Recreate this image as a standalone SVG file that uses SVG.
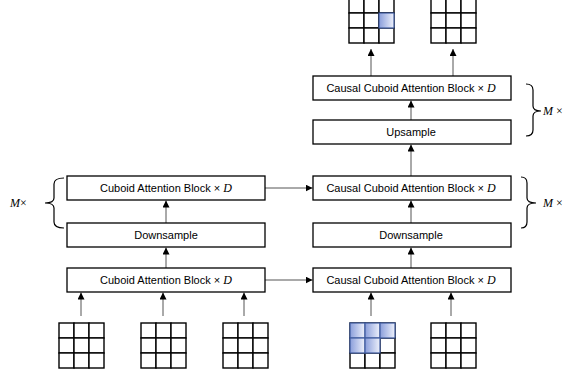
<svg xmlns="http://www.w3.org/2000/svg" width="568" height="377" viewBox="0 0 568 377">
<style>
.box{fill:#fff;stroke:#000;stroke-width:1.3}
.lbl{font-family:"Liberation Sans",Arial,sans-serif;font-size:11px;fill:#000;text-anchor:middle;dominant-baseline:central}
.it{font-family:"Liberation Serif","Times New Roman",serif;font-style:italic;font-size:12px}
.conn{stroke:#555;stroke-width:1;fill:none}
.cell{fill:#fff;stroke:#000;stroke-width:1.4}
.bcell{fill:url(#blue);stroke:#3f5b9f;stroke-width:1.2}
.brace{fill:none;stroke:#000;stroke-width:1.2}
.mx{font-family:"Liberation Serif","Times New Roman",serif;font-size:12px;fill:#000}
</style>
<defs>
<linearGradient id="blue" x1="0" y1="0" x2="1" y2="0">
<stop offset="0" stop-color="#8a9edb"/>
<stop offset="1" stop-color="#eef1fb"/>
</linearGradient>
<marker id="ah" viewBox="0 0 8 8" refX="8" refY="4" markerWidth="7" markerHeight="7" markerUnits="userSpaceOnUse" orient="auto">
<path d="M0,0 L8,4 L0,8 z" fill="#000"/>
</marker>
<g id="grid">
<rect class="cell" x="0" y="0" width="15" height="15"/>
<rect class="cell" x="15" y="0" width="15" height="15"/>
<rect class="cell" x="30" y="0" width="15" height="15"/>
<rect class="cell" x="0" y="15" width="15" height="15"/>
<rect class="cell" x="15" y="15" width="15" height="15"/>
<rect class="cell" x="30" y="15" width="15" height="15"/>
<rect class="cell" x="0" y="30" width="15" height="15"/>
<rect class="cell" x="15" y="30" width="15" height="15"/>
<rect class="cell" x="30" y="30" width="15" height="15"/>
</g>
</defs>
<rect width="568" height="377" fill="#fff"/>

<g id="connectors">
<line class="conn" x1="81" y1="316" x2="81" y2="292.5" marker-end="url(#ah)"/>
<line class="conn" x1="163" y1="316" x2="163" y2="292.5" marker-end="url(#ah)"/>
<line class="conn" x1="244" y1="316" x2="244" y2="292.5" marker-end="url(#ah)"/>
<line class="conn" x1="371" y1="316" x2="371" y2="292.5" marker-end="url(#ah)"/>
<line class="conn" x1="451" y1="316" x2="451" y2="292.5" marker-end="url(#ah)"/>
<line class="conn" x1="166" y1="268" x2="166" y2="247.5" marker-end="url(#ah)"/>
<line class="conn" x1="166" y1="223" x2="166" y2="200.5" marker-end="url(#ah)"/>
<line class="conn" x1="411" y1="268" x2="411" y2="247.5" marker-end="url(#ah)"/>
<line class="conn" x1="411" y1="223" x2="411" y2="200.5" marker-end="url(#ah)"/>
<line class="conn" x1="411" y1="176" x2="411" y2="144.5" marker-end="url(#ah)"/>
<line class="conn" x1="411" y1="120" x2="411" y2="100.5" marker-end="url(#ah)"/>
<line class="conn" x1="265" y1="188" x2="312.5" y2="188" marker-end="url(#ah)"/>
<line class="conn" x1="265" y1="280" x2="312.5" y2="280" marker-end="url(#ah)"/>
<line class="conn" x1="371" y1="76" x2="371" y2="49" marker-end="url(#ah)"/>
<line class="conn" x1="453" y1="76" x2="453" y2="49" marker-end="url(#ah)"/>
</g>

<g id="enc-bottom"><rect class="box" x="67" y="268" width="198" height="24"/><text class="lbl" x="166" y="280">Cuboid Attention Block × <tspan class="it">D</tspan></text></g>
<g id="enc-down"><rect class="box" x="67" y="223" width="198" height="24"/><text class="lbl" x="166" y="235">Downsample</text></g>
<g id="enc-top"><rect class="box" x="67" y="176" width="198" height="24"/><text class="lbl" x="166" y="188">Cuboid Attention Block × <tspan class="it">D</tspan></text></g>

<g id="dec-bottom"><rect class="box" x="313" y="268" width="198" height="24"/><text class="lbl" x="411" y="280">Causal Cuboid Attention Block × <tspan class="it">D</tspan></text></g>
<g id="dec-down"><rect class="box" x="313" y="223" width="198" height="24"/><text class="lbl" x="411" y="235">Downsample</text></g>
<g id="dec-mid"><rect class="box" x="313" y="176" width="198" height="24"/><text class="lbl" x="411" y="188">Causal Cuboid Attention Block × <tspan class="it">D</tspan></text></g>
<g id="dec-up"><rect class="box" x="313" y="120" width="198" height="24"/><text class="lbl" x="411" y="132">Upsample</text></g>
<g id="dec-top"><rect class="box" x="313" y="76" width="198" height="24"/><text class="lbl" x="411" y="88">Causal Cuboid Attention Block × <tspan class="it">D</tspan></text></g>

<g id="in-grid-1"><use href="#grid" x="59" y="323"/></g>
<g id="in-grid-2"><use href="#grid" x="141" y="323"/></g>
<g id="in-grid-3"><use href="#grid" x="223" y="323"/></g>
<g id="in-grid-4"><use href="#grid" x="350" y="323"/>
<rect class="bcell" x="350" y="323" width="15" height="15"/>
<rect class="bcell" x="365" y="323" width="15" height="15"/>
<rect class="bcell" x="380" y="323" width="15" height="15"/>
<rect class="bcell" x="350" y="338" width="15" height="15"/>
<rect class="bcell" x="365" y="338" width="15" height="15"/>
</g>
<g id="in-grid-5"><use href="#grid" x="431" y="323"/></g>
<g id="out-grid-1"><use href="#grid" x="349" y="-2"/>
<rect class="bcell" x="379" y="13" width="15" height="15"/>
</g>
<g id="out-grid-2"><use href="#grid" x="431" y="-2"/></g>

<g id="brace-left"><path class="brace" d="M64,178 Q54,178 54,184 L54,198 Q54,203 45,203 Q54,203 54,208 L54,222 Q54,228 64,228"/><text class="mx" x="10" y="207"><tspan font-style="italic">M</tspan>×</text></g>
<g id="brace-right-1"><path class="brace" d="M521,177 Q527,177 527,183 L527,198 Q527,203 536,203 Q527,203 527,208 L527,222 Q527,228 521,228"/><text class="mx" x="543" y="207"><tspan font-style="italic">M</tspan> ×</text></g>
<g id="brace-right-2"><path class="brace" d="M526,84 Q533,84 533,90 L533,106 Q533,111 541,111 Q533,111 533,116 L533,130 Q533,136 526,136"/><text class="mx" x="543" y="115"><tspan font-style="italic">M</tspan> ×</text></g>
</svg>
